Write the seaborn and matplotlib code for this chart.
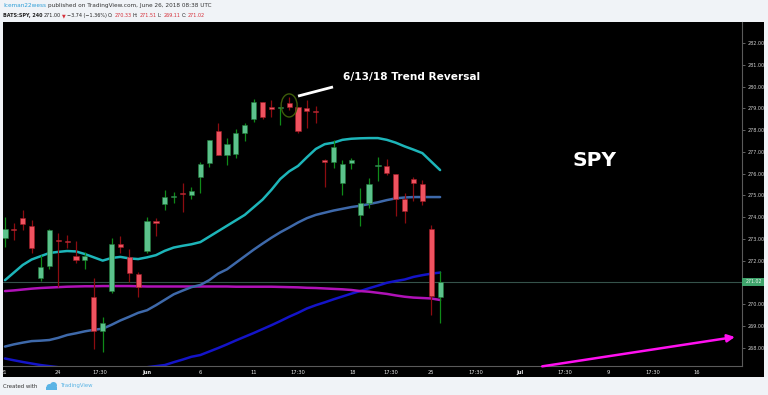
import numpy as np
import pandas as pd
import matplotlib
matplotlib.use("Agg")
import matplotlib.pyplot as plt
import seaborn as sns
from matplotlib.patches import Rectangle, Ellipse

# ---------------- data ----------------
opens = [273.04, 273.47, 273.96, 273.59, 271.20, 271.75, 272.95, 272.92, 272.21, 272.03,
         270.33, 268.76, 270.60, 272.76, 272.17, 271.38, 272.44, 273.82, 274.60, 274.90,
         275.08, 275.01, 275.84, 276.49, 277.96, 276.85, 276.90, 277.86, 278.51, 279.29,
         279.06, 279.00, 279.24, 279.06, 279.01, 278.85, 276.62, 276.53, 275.57, 276.49,
         274.10, 274.65, 276.33, 276.35, 275.98, 274.83, 275.75, 275.52, 273.45, 270.33]
highs = [274.00, 273.73, 274.33, 273.87, 272.26, 273.45, 273.27, 273.18, 272.90, 272.40,
         271.20, 269.41, 273.04, 273.13, 272.53, 271.48, 274.00, 273.96, 275.24, 275.15,
         275.57, 275.38, 276.53, 277.56, 278.32, 277.63, 278.05, 278.32, 279.43, 279.30,
         279.38, 279.05, 279.52, 279.08, 279.38, 279.10, 276.67, 277.54, 276.62, 276.72,
         275.34, 275.80, 276.76, 276.67, 276.00, 275.11, 275.84, 275.70, 273.64, 271.51]
lows = [272.62, 272.95, 273.41, 272.35, 271.06, 271.61, 270.79, 272.58, 271.89, 271.61,
        267.94, 267.80, 270.51, 272.35, 271.02, 270.33, 272.35, 273.13, 274.33, 274.65,
        274.23, 274.83, 275.11, 276.30, 276.83, 276.39, 276.72, 277.50, 278.37, 278.51,
        278.60, 278.23, 278.92, 277.86, 278.09, 278.32, 275.38, 276.26, 275.01, 276.21,
        273.59, 274.42, 275.66, 275.93, 274.05, 273.73, 274.74, 274.56, 269.50, 269.11]
closes = [273.45, 273.42, 273.68, 272.58, 271.71, 273.41, 272.90, 272.86, 272.03, 272.21,
          268.76, 269.13, 272.76, 272.62, 271.43, 270.79, 273.82, 273.73, 274.92, 274.94,
          275.04, 275.20, 276.44, 277.54, 276.85, 277.36, 277.86, 278.23, 279.29, 278.60,
          278.97, 279.03, 279.06, 277.96, 278.87, 278.81, 276.53, 277.22, 276.44, 276.62,
          274.65, 275.52, 276.37, 276.03, 274.83, 274.28, 275.57, 274.74, 270.37, 271.02]

ma_fast = [271.10, 271.45, 271.80, 272.05, 272.20, 272.35, 272.40, 272.44, 272.42, 272.30,
           272.15, 272.00, 272.12, 272.17, 272.10, 272.07, 272.15, 272.25, 272.45, 272.60,
           272.68, 272.75, 272.85, 273.10, 273.35, 273.60, 273.85, 274.10, 274.45, 274.80,
           275.25, 275.75, 276.10, 276.35, 276.75, 277.13, 277.35, 277.42, 277.55, 277.60,
           277.62, 277.63, 277.63, 277.55, 277.42, 277.25, 277.10, 276.94, 276.55, 276.16]
ma_mid = [268.05, 268.15, 268.23, 268.30, 268.32, 268.35, 268.45, 268.58, 268.66, 268.75,
          268.82, 268.87, 269.05, 269.25, 269.42, 269.60, 269.72, 269.95, 270.20, 270.45,
          270.62, 270.78, 270.88, 271.10, 271.40, 271.60, 271.90, 272.20, 272.50, 272.78,
          273.05, 273.30, 273.52, 273.75, 273.95, 274.10, 274.20, 274.30, 274.38, 274.46,
          274.52, 274.60, 274.68, 274.78, 274.86, 274.90, 274.92, 274.92, 274.92, 274.92]
ma_slow = [270.60, 270.63, 270.67, 270.71, 270.74, 270.76, 270.78, 270.80, 270.81, 270.82,
           270.82, 270.83, 270.83, 270.83, 270.83, 270.82, 270.81, 270.81, 270.81, 270.81,
           270.81, 270.81, 270.81, 270.81, 270.81, 270.81, 270.80, 270.80, 270.80, 270.80,
           270.80, 270.79, 270.78, 270.77, 270.75, 270.74, 270.72, 270.70, 270.68, 270.65,
           270.60, 270.57, 270.52, 270.47, 270.40, 270.34, 270.30, 270.28, 270.26, 270.19]
ma_long = [267.50, 267.42, 267.34, 267.27, 267.20, 267.15, 267.10, 267.05, 267.00, 266.97,
           266.95, 266.94, 266.95, 266.97, 267.00, 267.05, 267.10, 267.15, 267.20, 267.33,
           267.45, 267.58, 267.66, 267.82, 267.98, 268.15, 268.33, 268.50, 268.67, 268.85,
           269.03, 269.22, 269.42, 269.60, 269.80, 269.95, 270.08, 270.22, 270.35, 270.48,
           270.60, 270.73, 270.85, 270.98, 271.06, 271.13, 271.25, 271.33, 271.40, 271.45]

last_price = 271.02
price_ticks = list(range(268, 283))
time_labels = ["21", "24", "17:30", "Jun", "6", "11", "17:30", "18", "17:30",
               "25", "17:30", "Jul", "17:30", "9", "17:30", "16"]
time_pos = [-0.1, 5.97, 10.7, 16.0, 21.96, 28.0, 33.0, 39.2, 43.5,
            48.0, 53.0, 58.0, 63.1, 68.0, 73.0, 77.9]

# ---------------- styling ----------------
sns.set_style("dark")
plt.rcParams['font.family'] = ['DejaVu Sans']

W, H = 768, 395
def fx(px): return px / W
def fy(py): return 1 - py / H

fig = plt.figure(figsize=(7.68, 3.95), dpi=100, facecolor='#f0f3f7')
panel = Rectangle((fx(3), fy(377)), (764 - 3) / W, (377 - 22) / H,
                  transform=fig.transFigure, facecolor='black',
                  edgecolor='none', zorder=-5)
fig.patches.append(panel)

ax = fig.add_axes([fx(3), fy(366), (742 - 3) / W, (366 - 22) / H])
ax.set_zorder(2)
ax.set_facecolor('black')
ax.grid(False)

df = pd.DataFrame({"i": np.arange(len(opens)), "o": opens, "h": highs,
                   "l": lows, "c": closes, "fast": ma_fast, "mid": ma_mid,
                   "slow": ma_slow, "long": ma_long})

# moving averages
sns.lineplot(data=df, x="i", y="long", ax=ax, color='#1414c8', lw=1.8, zorder=2)
sns.lineplot(data=df, x="i", y="slow", ax=ax, color='#b012b8', lw=1.8, zorder=2)
sns.lineplot(data=df, x="i", y="mid", ax=ax, color='#3e69aa', lw=1.8, zorder=2)
sns.lineplot(data=df, x="i", y="fast", ax=ax, color='#1db5b9', lw=1.8, zorder=2)

# last price line
ax.axhline(last_price, color='#35524a', lw=0.8, zorder=1)

# candles
up = df[df.c >= df.o]
dn = df[df.c < df.o]
ax.vlines(up.i, up.l, up.h, color='#0f8a18', lw=0.9, zorder=3)
ax.vlines(dn.i, dn.l, dn.h, color='#8c0c10', lw=0.9, zorder=3)
ax.bar(up.i, np.maximum(up.c - up.o, 0.05), bottom=up.o, width=0.58,
       color='#5cc28c', edgecolor='#1f7a38', lw=0.4, zorder=4)
ax.bar(dn.i, np.maximum(dn.o - dn.c, 0.05), bottom=dn.c, width=0.58,
       color='#ef5360', edgecolor='#a01822', lw=0.4, zorder=4)

# annotation: circle, pointer, text
ax.add_patch(Ellipse((32, 279.13), width=1.8, height=1.06, fill=False,
                     edgecolor='#3d5c0a', lw=1.0, zorder=5))
ax.plot([33.0, 36.94], [279.56, 279.98], color='white', lw=2.0, zorder=5,
        solid_capstyle='butt')
ax.text(38.06, 280.44, "6/13/18 Trend Reversal", color='white', fontsize=7.6,
        fontweight='bold', va='center', ha='left', zorder=6)
ax.text(66.44, 276.62, "SPY", color='white', fontsize=14.5, fontweight='bold',
        va='center', ha='center', zorder=6)

# magenta arrow
ax.annotate('', xy=(82.2, 268.49), xytext=(60.5, 267.14),
            arrowprops=dict(arrowstyle='-|>', color='#ff10f0', lw=1.8,
                            mutation_scale=11, shrinkA=0, shrinkB=0), zorder=6)

ax.set_xlim(-0.225, 83.0)
ax.set_ylim(267.156, 282.965)
ax.set_xlabel("")
ax.set_ylabel("")

# axes (the 271.00 label sits under the last-price box, as in the reference)
ax.yaxis.tick_right()
ax.set_yticks(price_ticks)
ax.set_yticklabels(["" if v == 271 else f"{v:.2f}" for v in price_ticks])
ax.tick_params(axis='y', length=2.5, width=0.5, color='#888888', pad=1.2,
               labelsize=3.5, labelcolor='#d0d0d0', right=True, left=False)
ax.set_xticks(time_pos)
ax.set_xticklabels(time_labels)
ax.tick_params(axis='x', length=0, pad=3.2, labelsize=3.7, labelcolor='#e6e6e6')
for t in ax.get_xticklabels():
    if t.get_text() in ("Jun", "Jul"):
        t.set_fontweight('bold')
for s in ['top', 'left']:
    ax.spines[s].set_visible(False)
for s in ['right', 'bottom']:
    ax.spines[s].set_color('#5a5a5a')
    ax.spines[s].set_linewidth(0.8)

# last price label on the price axis
fig.patches.append(Rectangle((fx(742), fy(286)), 22 / W, 8.5 / H,
                             transform=fig.transFigure, facecolor='#3fa46c',
                             edgecolor='none', zorder=5))
fig.text(fx(753.5), fy(281.8), f"{last_price:.2f}", color='#eaf7ee', fontsize=3.4,
         ha='center', va='center', zorder=6)

# header (pieces laid out one after another)
renderer = fig.canvas.get_renderer()
def seq(x0, y0, parts, size, gap=1.6):
    x = x0
    for txt, col, wt in parts:
        t = fig.text(fx(x), fy(y0), txt, color=col, fontsize=size,
                     fontweight=wt, va='center', ha='left')
        x += t.get_window_extent(renderer=renderer).width + gap

red = '#d6303a'
dark = '#222222'
seq(3, 5.5, [("Iceman22wess", '#2e9fd8', 'normal'),
             ("published on TradingView.com, June 26, 2018 08:38 UTC", '#333333', 'normal')],
    4.15)
seq(3, 15.5, [("BATS:SPY, 240", dark, 'bold'), ("271.00", dark, 'normal'),
              ("\u25BC", red, 'normal'), ("\u22123.74 (\u22121.36%)", dark, 'normal'),
              ("O:", dark, 'normal'), ("270.33", red, 'normal'),
              ("H:", dark, 'normal'), ("271.51", red, 'normal'),
              ("L:", dark, 'normal'), ("269.11", red, 'normal'),
              ("C:", dark, 'normal'), ("271.02", red, 'normal')], 3.55, gap=1.2)

# footer
fig.text(fx(3), fy(386), "Created with", color='#333333', fontsize=3.9, va='center')
blue = '#5ab4e5'
fig.patches.append(Ellipse((fx(49.5), fy(387)), 6 / W, 6 / H, transform=fig.transFigure,
                           facecolor=blue, edgecolor='none'))
fig.patches.append(Ellipse((fx(53.5), fy(385.5)), 7 / W, 7 / H, transform=fig.transFigure,
                           facecolor=blue, edgecolor='none'))
fig.patches.append(Rectangle((fx(46), fy(390)), 11 / W, 3 / H, transform=fig.transFigure,
                             facecolor=blue, edgecolor='none'))
fig.text(fx(60), fy(386), "TradingView", color=blue, fontsize=3.9, va='center')

fig.savefig("out.png", dpi=100, facecolor=fig.get_facecolor())
